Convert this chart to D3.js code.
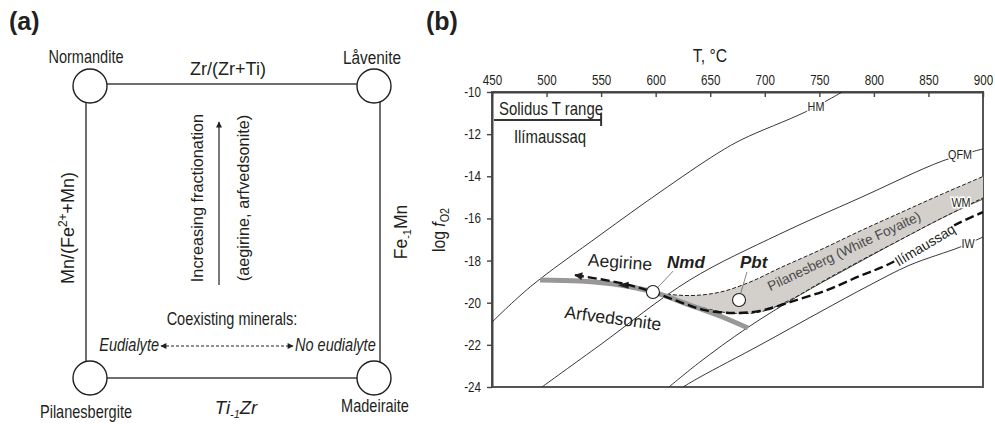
<!DOCTYPE html>
<html>
<head>
<meta charset="utf-8">
<script src="https://cdn.jsdelivr.net/npm/d3@7"></script>
<style>
  body { margin: 0; background: #fff; }
  svg text { font-family: "Liberation Sans", Arial, sans-serif; fill: #231f20; }
</style>
</head>
<body>
<script>
// ---- data: panel (a) ----
var corners = ["Normandite", "Låvenite", "Pilanesbergite", "Madeiraite"];

// ---- data: panel (b), [T (°C), log fO2] ----
var tTicks = [450, 500, 550, 600, 650, 700, 750, 800, 850, 900];
var fTicks = [-10, -12, -14, -16, -18, -20, -22, -24];
var solidusRange = [450, 550];

var hmBuffer = [[450, -20.92], [485, -19.25], [549, -16.79], [604, -14.75], [657, -12.9], [680, -12.23], [737, -10.95], [771, -10.0]];
var qfmBuffer = [[495.8, -24.0], [548.9, -22.01], [631.3, -18.92], [713.7, -16.74], [787, -15.03], [863, -13.27], [900, -12.7]];
var wmBuffer = [[612.2, -24.0], [640.6, -22.81], [683.7, -21.2], [732.3, -19.63], [778.1, -18.31], [823.9, -17.02], [869.7, -15.79], [900, -15.08]];
var iwBuffer = [[625, -24.0], [640.6, -23.53], [695.6, -22.01], [750.6, -20.44], [796.4, -19.16], [833.1, -18.21], [878.9, -17.36], [900, -16.88]];

var ilimaussaqTrend = [[526.1, -18.69], [567.3, -19.06], [597.5, -19.49], [622.3, -19.97], [645.2, -20.35], [670.9, -20.49], [695.6, -20.39], [723.1, -19.97], [757, -19.4], [787.2, -18.73], [812, -18.21], [842.2, -17.36], [872.5, -16.36], [900, -15.7]];
var arfvedsoniteTrend = [[494, -18.92], [530.6, -18.97], [567.3, -19.16], [597.5, -19.49], [631.4, -20.11], [658.9, -20.63], [684.6, -21.2]];

var pilanesUpper = [[599.4, -19.54], [631.4, -19.66], [658.9, -19.5], [686.4, -19.02], [713.9, -18.35], [750.6, -17.5], [787.2, -16.6], [823.9, -15.74], [860.5, -14.89], [905, -13.9]];
var pilanesLower = [[905, -14.9], [860.5, -16.03], [823.9, -17.02], [787.2, -18.02], [750.6, -19.06], [723.1, -19.87], [695.6, -20.44], [668.1, -20.49], [640.6, -20.2], [617.7, -19.82]];

var samples = [
  { name: "Nmd", t: 597.5, f: -19.49 },
  { name: "Pbt", t: 676.4, f: -19.87 }
];

var W = 995, H = 424;
var SX = 0.83; // horizontal squeeze standing in for the narrow face of the original
var svg = d3.select("body").append("svg").attr("width", W).attr("height", H);
var defs = svg.append("defs");

function arrowMarker(id, w, h) {
  defs.append("marker")
    .attr("id", id)
    .attr("viewBox", "0 0 10 10")
    .attr("refX", 9).attr("refY", 5)
    .attr("markerWidth", w).attr("markerHeight", h)
    .attr("markerUnits", "userSpaceOnUse")
    .attr("orient", "auto-start-reverse")
    .append("path")
    .attr("d", "M0,0L10,5L0,10Z")
    .attr("fill", "#231f20");
}
arrowMarker("ahUp", 10, 6);
arrowMarker("ahSmall", 8, 6);
arrowMarker("ahBig", 11, 8);

// text helper: translate / rotate / squeeze
function label(g, x, y, str, o) {
  o = o || {};
  var sx = o.sx == null ? SX : o.sx;
  var t = g.append("text")
    .attr("transform", "translate(" + x + "," + y + ") rotate(" + (o.rot || 0) + ") scale(" + sx + ",1)")
    .attr("text-anchor", o.anchor || "middle")
    .style("font-size", (o.size || 17.5) + "px");
  if (o.italic) t.style("font-style", "italic");
  if (o.bold) t.style("font-weight", "bold");
  if (o.dy) t.attr("dy", o.dy);
  if (str) t.text(str);
  return t;
}

// ================= panel (a) =================
var pa = svg.append("g");

label(pa, 9, 30, "(a)", { anchor: "start", size: 25, bold: true, sx: 1 });

// box
pa.append("rect")
  .attr("x", 86).attr("y", 84).attr("width", 294).attr("height", 294)
  .attr("fill", "none").attr("stroke", "#333").attr("stroke-width", 1.4);

var cornerPos = [[90, 86], [374, 86], [90, 378], [374, 378]];
var cornerLab = [[86, 63], [372, 64], [86, 418], [375, 412]];

pa.selectAll("circle.corner").data(corners).enter().append("circle")
  .attr("class", "corner")
  .attr("cx", function (d, i) { return cornerPos[i][0]; })
  .attr("cy", function (d, i) { return cornerPos[i][1]; })
  .attr("r", 17)
  .attr("fill", "#fff").attr("stroke", "#231f20").attr("stroke-width", 1.4);

corners.forEach(function (d, i) {
  label(pa, cornerLab[i][0], cornerLab[i][1], d, { size: i === 1 ? 18.5 : 17.5 });
});

label(pa, 228, 75, "Zr/(Zr+Ti)", { size: 18, sx: 1 });

var tz = label(pa, 236, 414, null, { size: 18.5, italic: true, sx: 1 });
tz.append("tspan").text("Ti");
tz.append("tspan").attr("dy", 4).style("font-size", "11px").text("-1");
tz.append("tspan").attr("dy", -4).text("Zr");

var mn = label(pa, 74, 228, null, { rot: -90, size: 18, sx: 1 });
mn.append("tspan").text("Mn/(Fe");
mn.append("tspan").attr("dy", -7).style("font-size", "12px").text("2+");
mn.append("tspan").attr("dy", 7).text("+Mn)");

var fe = label(pa, 407, 232, null, { rot: -90, size: 17.5, sx: 1 });
fe.append("tspan").text("Fe");
fe.append("tspan").attr("dy", 4).style("font-size", "11px").text("-1");
fe.append("tspan").attr("dy", -4).text("Mn");

label(pa, 203, 198, "Increasing fractionation", { rot: -90, size: 16.3, sx: 1 });
label(pa, 249, 198, "(aegirine, arfvedsonite)", { rot: -90, size: 16.3, sx: 1 });

pa.append("line")
  .attr("x1", 219).attr("y1", 285).attr("x2", 219).attr("y2", 122)
  .attr("stroke", "#231f20").attr("stroke-width", 1.2)
  .attr("marker-end", "url(#ahUp)");

label(pa, 232, 325, "Coexisting minerals:");
label(pa, 159, 351, "Eudialyte", { anchor: "end", italic: true });
label(pa, 295, 351, "No eudialyte", { anchor: "start", italic: true });

pa.append("line")
  .attr("x1", 161).attr("y1", 346).attr("x2", 293).attr("y2", 346)
  .attr("stroke", "#231f20").attr("stroke-width", 1)
  .attr("stroke-dasharray", "3,2")
  .attr("marker-start", "url(#ahSmall)")
  .attr("marker-end", "url(#ahSmall)");

// ================= panel (b) =================
var pb = svg.append("g");

label(pb, 426, 30, "(b)", { anchor: "start", size: 25, bold: true, sx: 1 });

var x = d3.scaleLinear().domain([450, 900]).range([492, 983]);
var y = d3.scaleLinear().domain([-10, -24]).range([92, 387]);

defs.append("clipPath").attr("id", "plotClip")
  .append("rect")
  .attr("x", x(450)).attr("y", y(-10))
  .attr("width", x(900) - x(450)).attr("height", y(-24) - y(-10));

// frame (right + bottom)
pb.append("rect")
  .attr("x", x(450)).attr("y", y(-10))
  .attr("width", x(900) - x(450)).attr("height", y(-24) - y(-10))
  .attr("fill", "none").attr("stroke", "#555").attr("stroke-width", 2);

var xAxis = pb.append("g")
  .attr("transform", "translate(0," + y(-10) + ")")
  .call(d3.axisTop(x).tickValues(tTicks).tickSize(-5).tickSizeOuter(0).tickPadding(7)
    .tickFormat(function (d) { return String(d); }));

var yAxis = pb.append("g")
  .attr("transform", "translate(" + x(450) + ",0)")
  .call(d3.axisLeft(y).tickValues(fTicks).tickSize(5).tickSizeOuter(0).tickPadding(6)
    .tickFormat(function (d) { return String(d); }));

[xAxis, yAxis].forEach(function (g) {
  g.select(".domain").attr("stroke", "#444").attr("stroke-width", 2);
  g.selectAll(".tick line").attr("stroke", "#444").attr("stroke-width", 1.4);
  g.selectAll(".tick text")
    .style("font-family", "'Liberation Sans',Arial,sans-serif")
    .style("font-size", "14px").attr("fill", "#231f20")
    .attr("transform", "scale(" + SX + ",1)");
});
yAxis.selectAll(".tick text").attr("x", -11 / SX);

label(pb, 710, 62, "T, °C", { size: 19 });

var lg = label(pb, 445, 230, null, { rot: -90, size: 19 });
lg.append("tspan").text("log ");
lg.append("tspan").style("font-style", "italic").text("f");
lg.append("tspan").attr("dy", 4).style("font-size", "13px").text("O2");

// solidus T range bar
var solY = -11.33;
pb.append("line")
  .attr("x1", x(solidusRange[0]) + 2).attr("x2", x(solidusRange[1]))
  .attr("y1", y(solY)).attr("y2", y(solY))
  .attr("stroke", "#333").attr("stroke-width", 2);
pb.append("line")
  .attr("x1", x(solidusRange[1])).attr("x2", x(solidusRange[1]))
  .attr("y1", y(solY) - 6).attr("y2", y(solY) + 6)
  .attr("stroke", "#333").attr("stroke-width", 2);
label(pb, 551, 115, "Solidus T range", { size: 18 });
label(pb, 550, 143, "Ilímaussaq", { size: 18 });

var plot = pb.append("g").attr("clip-path", "url(#plotClip)");

var line = d3.line()
  .x(function (d) { return x(d[0]); })
  .y(function (d) { return y(d[1]); })
  .curve(d3.curveCatmullRom.alpha(0.5));

// buffers
[hmBuffer, qfmBuffer, wmBuffer, iwBuffer].forEach(function (b) {
  plot.append("path")
    .attr("d", line(b))
    .attr("fill", "none").attr("stroke", "#231f20").attr("stroke-width", 0.9);
});

// Pilanesberg field
var upperPath = line(pilanesUpper);
var lowerPath = line(pilanesLower).replace(/^M/, "L");
plot.append("path")
  .attr("d", upperPath + lowerPath + "Z")
  .attr("fill", "#d3cfcb")
  .attr("stroke", "#231f20").attr("stroke-width", 1)
  .attr("stroke-dasharray", "4,2");

// arfvedsonite trend (grey)
plot.append("path")
  .attr("d", line(arfvedsoniteTrend))
  .attr("fill", "none").attr("stroke", "#9a9797").attr("stroke-width", 5)
  .attr("stroke-linecap", "butt");

// small arrow head on the grey trend
var ah = [x(567), y(-19.17)];
plot.append("path")
  .attr("d", "M" + (ah[0] - 2) + "," + ah[1] + "l11,-3.5l0,7z")
  .attr("fill", "#231f20");

// Ilimaussaq trend (thick dashed, arrow towards low T)
plot.append("path")
  .attr("d", line(ilimaussaqTrend))
  .attr("fill", "none").attr("stroke", "#111").attr("stroke-width", 2.4)
  .attr("stroke-dasharray", "9,4")
  .attr("marker-start", "url(#ahBig)");

// buffer labels (white halo makes the gap in the line)
var bufLabels = [
  { t: "HM", px: 816, py: 111 },
  { t: "QFM", px: 960, py: 159 },
  { t: "WM", px: 961, py: 207 },
  { t: "IW", px: 968, py: 248 }
];
bufLabels.forEach(function (d) {
  label(pb, d.px, d.py, d.t, { size: 13 })
    .attr("stroke", "#fff").attr("stroke-width", 3).attr("paint-order", "stroke");
});

label(pb, 925, 245, "Ilímaussaq", { rot: -31, size: 14, sx: 1, dy: "0.35em" })
  .attr("stroke", "#fff").attr("stroke-width", 4).attr("paint-order", "stroke");

label(pb, 844, 251, "Pilanesberg (White Foyaite)", { rot: -25.3, size: 13.6, sx: 1, dy: "0.35em" })
  .style("fill", "#4a4a4a");

// sample leaders + circles
var leaders = [[[602, -19.27], [616, -18.5]], [[678, -19.54], [683.7, -18.54]]];
leaders.forEach(function (l) {
  pb.append("line")
    .attr("x1", x(l[0][0])).attr("y1", y(l[0][1]))
    .attr("x2", x(l[1][0])).attr("y2", y(l[1][1]))
    .attr("stroke", "#666").attr("stroke-width", 0.8);
});
pb.selectAll("circle.sample").data(samples).enter().append("circle")
  .attr("class", "sample")
  .attr("cx", function (d) { return x(d.t); })
  .attr("cy", function (d) { return y(d.f); })
  .attr("r", 6.5)
  .attr("fill", "#fff").attr("stroke", "#231f20").attr("stroke-width", 1.1);

label(pb, 667, 268, "Nmd", { anchor: "start", size: 17, bold: true, italic: true, sx: 1 });
label(pb, 740, 268, "Pbt", { anchor: "start", size: 17, bold: true, italic: true, sx: 1 });

label(pb, 620, 262, "Aegirine", { rot: 4, size: 17.5, sx: 1, dy: "0.35em" });
label(pb, 613, 318, "Arfvedsonite", { rot: 7.5, size: 17.5, sx: 1, dy: "0.35em" });
</script>
</body>
</html>
